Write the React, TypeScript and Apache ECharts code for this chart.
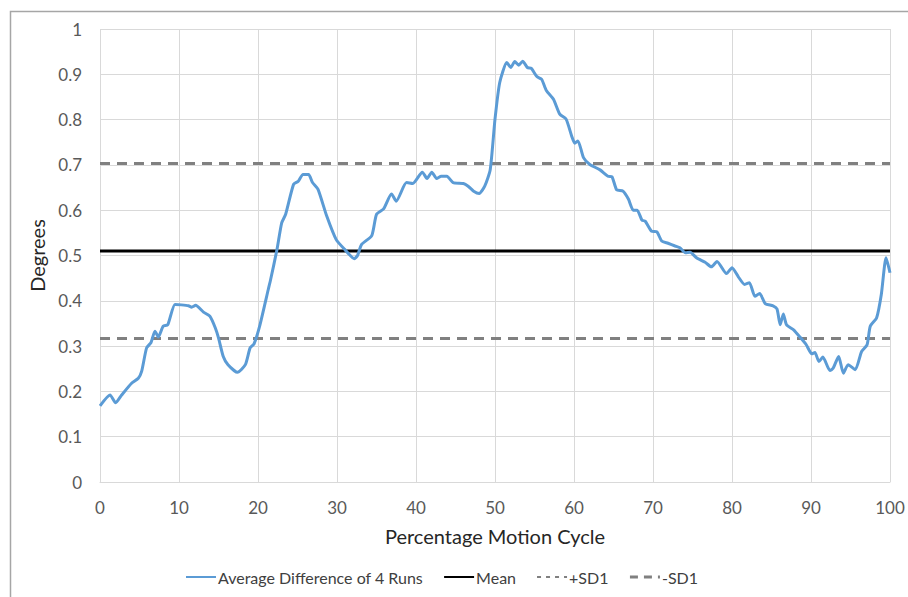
import React, { useEffect, useRef } from "react";
import * as echarts from "echarts";

const diffX = [0, 1.27, 1.98, 2.74, 4.0, 4.85, 5.27, 5.9, 6.46, 6.96, 7.38, 8.0, 8.57, 9.49, 10.3, 11.2, 11.6, 12.1, 13.1, 13.9, 14.6, 15.0, 15.6, 16.2, 17.4, 18.4, 19.0, 19.5, 20.25, 21.3, 21.6, 22.4, 23.0, 23.5, 24.5, 25.1, 25.7, 26.4, 26.9, 27.6, 28.7, 29.9, 31.0, 32.2, 32.6, 33.1, 34.4, 35.0, 35.9, 36.9, 37.5, 38.8, 39.6, 40.8, 41.4, 42.0, 42.6, 43.2, 43.9, 44.7, 46.0, 46.6, 47.3, 48.0, 48.7, 49.4, 50.0, 50.6, 51.5, 52.0, 52.5, 53.0, 53.5, 54.1, 54.6, 55.3, 55.9, 56.5, 57.4, 58.2, 59.0, 59.7, 60.1, 60.5, 61.2, 62.0, 63.3, 64.3, 64.8, 65.4, 66.2, 66.9, 67.5, 68.0, 68.6, 69.0, 69.8, 70.5, 71.1, 71.9, 72.8, 73.4, 74.1, 74.7, 75.5, 76.6, 77.4, 78.1, 79.3, 80.0, 80.8, 81.6, 82.2, 82.9, 83.5, 84.2, 85.2, 85.7, 86.1, 86.5, 86.9, 87.8, 88.6, 89.4, 90.1, 90.5, 91.0, 91.5, 92.4, 92.8, 93.5, 94.1, 94.7, 95.6, 96.4, 97.1, 97.5, 98.3, 98.9, 99.5, 100];
const diffY = [0.168, 0.192, 0.175, 0.192, 0.218, 0.229, 0.244, 0.296, 0.308, 0.333, 0.32, 0.344, 0.347, 0.392, 0.391, 0.389, 0.386, 0.39, 0.375, 0.366, 0.34, 0.318, 0.277, 0.259, 0.242, 0.259, 0.296, 0.305, 0.347, 0.425, 0.447, 0.513, 0.572, 0.591, 0.657, 0.664, 0.679, 0.679, 0.661, 0.646, 0.587, 0.535, 0.513, 0.493, 0.5, 0.524, 0.544, 0.591, 0.603, 0.636, 0.62, 0.661, 0.659, 0.684, 0.67, 0.684, 0.67, 0.675, 0.675, 0.661, 0.659, 0.653, 0.642, 0.637, 0.653, 0.69, 0.801, 0.882, 0.926, 0.915, 0.928, 0.92, 0.929, 0.915, 0.913, 0.895, 0.889, 0.864, 0.845, 0.812, 0.801, 0.764, 0.748, 0.753, 0.716, 0.701, 0.689, 0.675, 0.674, 0.645, 0.642, 0.624, 0.6, 0.6, 0.578, 0.576, 0.554, 0.552, 0.532, 0.527, 0.521, 0.517, 0.506, 0.507, 0.495, 0.485, 0.475, 0.487, 0.46, 0.473, 0.453, 0.436, 0.44, 0.41, 0.416, 0.394, 0.389, 0.382, 0.347, 0.371, 0.347, 0.336, 0.32, 0.303, 0.283, 0.286, 0.266, 0.276, 0.246, 0.251, 0.277, 0.24, 0.259, 0.248, 0.288, 0.303, 0.344, 0.362, 0.414, 0.495, 0.462];

const meanValue = 0.51;
const plusSD1 = 0.703;
const minusSD1 = 0.317;
const xRange = [0, 100];

const seriesNames = ["Average Difference of 4 Runs", "Mean", "+SD1", "-SD1"];

const FONT = "Lato, 'Open Sans', sans-serif";

export default function App() {
  const ref = useRef<HTMLDivElement>(null);
  useEffect(() => {
    if (!ref.current) return;
    const chart = echarts.init(ref.current, null, { renderer: "svg" });
    const hline = (v: number) => xRange.map((x) => [x, v]);
    chart.setOption({
      animation: false,
      backgroundColor: "#ffffff",
      textStyle: { fontFamily: FONT },
      graphic: [
        {
          type: "rect",
          shape: { x: 10.5, y: 11.5, width: 1000, height: 700 },
          style: { fill: "none", stroke: "#a6a6a6", lineWidth: 1.5 },
          silent: true,
        },
      ],
      grid: { left: 100, right: 18, top: 29, bottom: 115 },
      xAxis: {
        type: "value",
        min: 0,
        max: 100,
        interval: 10,
        name: "Percentage Motion Cycle",
        nameLocation: "middle",
        nameGap: 44,
        nameTextStyle: { fontSize: 20, color: "#262626", fontFamily: FONT },
        axisLine: { show: true, lineStyle: { color: "#d9d9d9", width: 1 } },
        axisTick: { show: false },
        axisLabel: { fontSize: 17, color: "#595959", margin: 17, fontFamily: FONT },
        splitLine: { show: true, lineStyle: { color: "#d9d9d9", width: 1 } },
      },
      yAxis: {
        type: "value",
        min: 0,
        max: 1,
        interval: 0.1,
        name: "Degrees",
        nameLocation: "middle",
        nameGap: 50,
        nameTextStyle: { fontSize: 20, color: "#262626", fontFamily: FONT },
        axisLine: { show: false },
        axisTick: { show: false },
        axisLabel: { fontSize: 17, color: "#595959", margin: 18, fontFamily: FONT },
        splitLine: { show: true, lineStyle: { color: "#d9d9d9", width: 1 } },
      },
      legend: {
        bottom: 7,
        left: 180,
        itemWidth: 30,
        itemHeight: 3,
        itemGap: 20,
        itemStyle: { opacity: 0 },
        textStyle: { fontSize: 16, color: "#404040", fontFamily: FONT, padding: [0, 0, 0, -3] },
        data: [
          { name: seriesNames[0] },
          { name: seriesNames[1] },
          { name: seriesNames[2], lineStyle: { type: [4, 5], color: "#808080", width: 2 } },
          { name: seriesNames[3], lineStyle: { type: [8, 6], color: "#808080", width: 3 } },
        ],
      },
      series: [
        {
          name: seriesNames[1],
          type: "line",
          data: hline(meanValue),
          symbol: "none",
          lineStyle: { color: "#000000", width: 3 },
          itemStyle: { color: "#000000" },
          z: 2,
        },
        {
          name: seriesNames[2],
          type: "line",
          data: hline(plusSD1),
          symbol: "none",
          lineStyle: { color: "#808080", width: 3, type: [10, 7] },
          itemStyle: { color: "#808080" },
          z: 2,
        },
        {
          name: seriesNames[3],
          type: "line",
          data: hline(minusSD1),
          symbol: "none",
          lineStyle: { color: "#808080", width: 3, type: [10, 7] },
          itemStyle: { color: "#808080" },
          z: 2,
        },
        {
          name: seriesNames[0],
          type: "line",
          data: diffX.map((x, i) => [x, diffY[i]]),
          symbol: "none",
          smooth: 0.2,
          lineStyle: { color: "#5b9bd5", width: 3 },
          itemStyle: { color: "#5b9bd5" },
          z: 3,
        },
      ],
    });
    return () => chart.dispose();
  }, []);
  return (
    <div
      ref={ref}
      style={{ position: "fixed", left: 0, top: 0, width: 908, height: 597 }}
    />
  );
}
